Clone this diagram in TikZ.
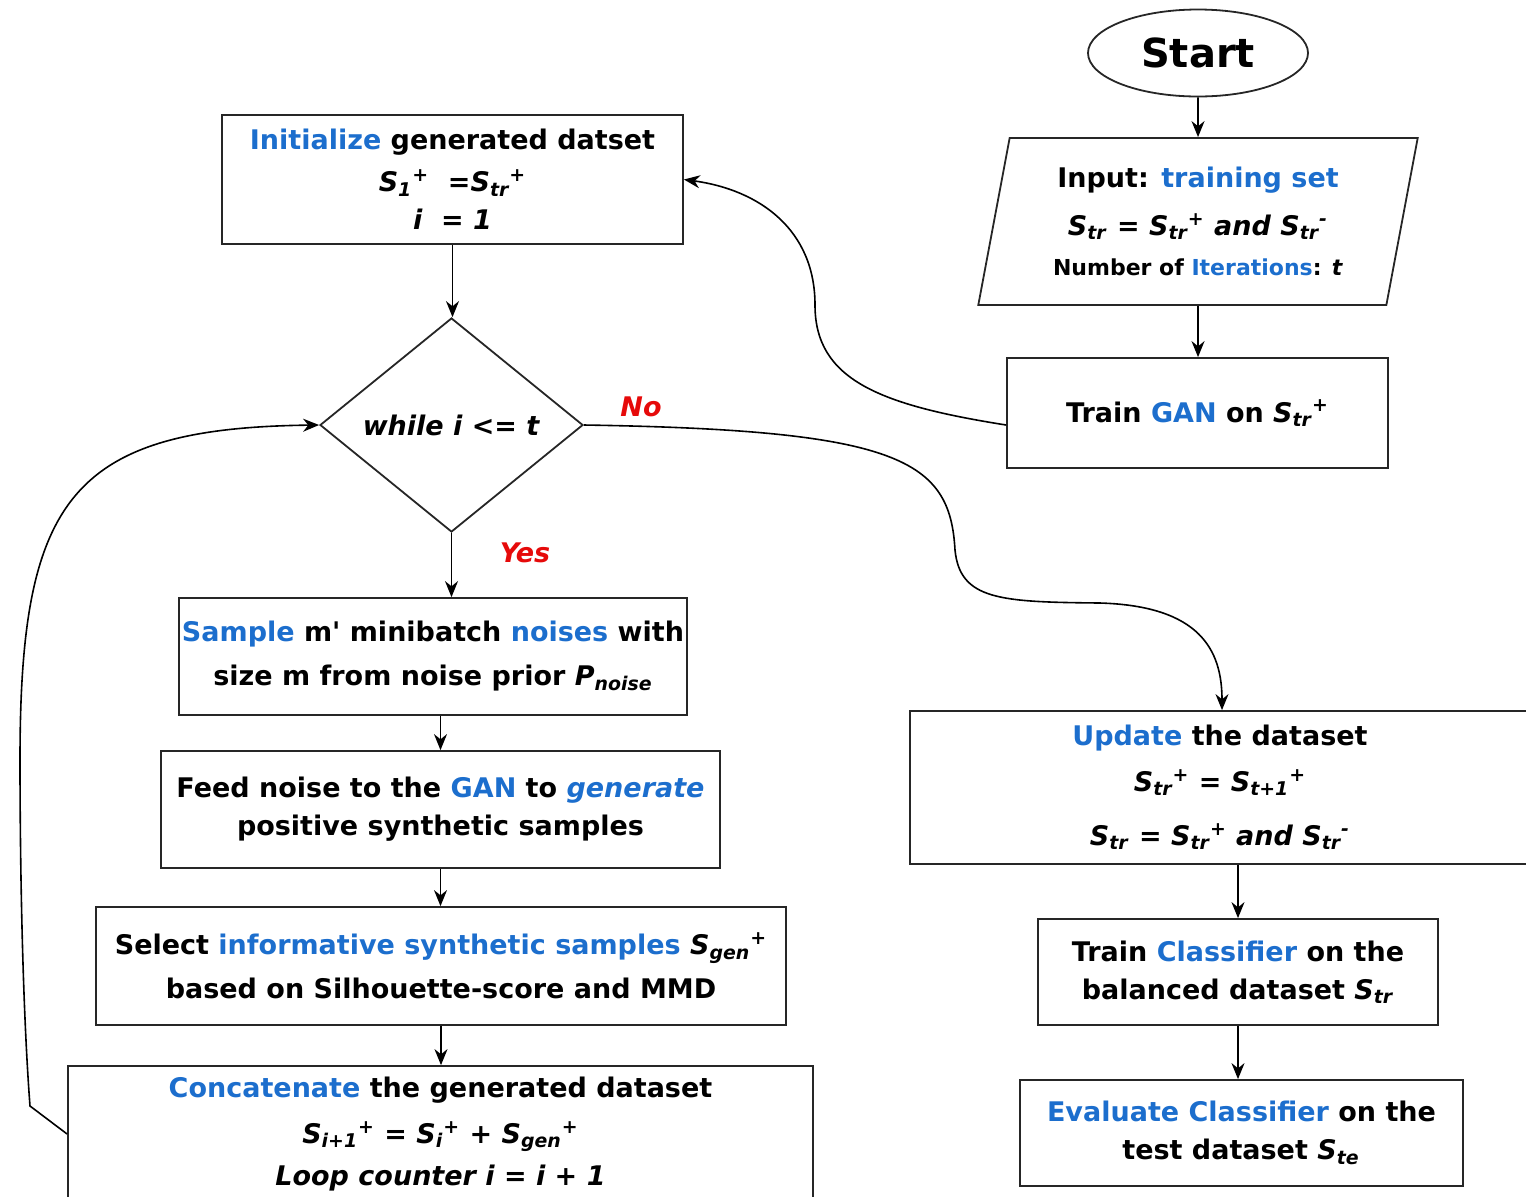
\documentclass[tikz,border=0pt]{standalone}
\usepackage{fontspec}
\setmainfont{DejaVu Sans}
\usetikzlibrary{shapes.geometric,arrows.meta,calc}
\definecolor{hl}{RGB}{28,110,205}
\definecolor{nored}{RGB}{230,10,10}
\newcommand{\hb}[1]{\textcolor{hl}{#1}}
\newcommand{\Ss}[2]{\textit{S\textsubscript{#1}\textsuperscript{#2}}}
\begin{document}
\begin{tikzpicture}[x=0.5pt,y=-0.5pt,
  every node/.style={font=\fontsize{13.5}{22}\selectfont\bfseries},
  box/.style={draw=black!85, line width=0.9pt, rectangle, align=center, inner sep=0pt},
  arr/.style={-{Stealth[length=8pt,width=6.5pt]}, line width=0.8pt},
  lbl/.style={text=nored, font=\fontsize{13.5}{16}\selectfont\bfseries\itshape}]
\useasboundingbox (0,0) rectangle (1526,1196);

\node[draw=black!85, line width=0.9pt, ellipse, minimum width=110pt, minimum height=43.5pt, inner sep=0pt] (start) at (1198,53) {\fontsize{20}{24}\selectfont Start};

\node[draw=black!85, line width=0.9pt, trapezium, trapezium left angle=77.5, trapezium right angle=102.5, trapezium stretches=true, minimum width=220pt, minimum height=83.5pt, align=center, inner sep=0pt] (input) at (1198,221.5)
  {Input: \hb{training set}\\[2pt]
   \textit{\Ss{tr}{} = \Ss{tr}{+} and \Ss{tr}{-}}\\[-2pt]
   {\fontsize{11}{14}\selectfont Number of \hb{Iterations}: \textit{t}}};

\node[box, minimum width=190.5pt, minimum height=55pt] (gan) at (1197.5,413) {Train \hb{GAN} on \Ss{tr}{+}};

\node[box, minimum width=230.5pt, minimum height=64.5pt] (init) at (452.5,179.5)
  {\hb{Initialize} generated datset\\[-1pt]
   \textit{\Ss{1}{+} \ =\Ss{tr}{+}}\\[-3pt]
   \textit{i \ = 1}};

\node[draw=black!85, line width=0.9pt, diamond, minimum width=131.5pt, minimum height=107pt, inner sep=0pt] (dia) at (451.5,425) {\textit{while i <= t}};

\node[box, minimum width=254pt, minimum height=58.5pt] (sample) at (433,656.5)
  {\hb{Sample} m\textquotesingle{} minibatch \hb{noises} with\\
   size m from noise prior \textit{P\textsubscript{noise}}};

\node[box, minimum width=279.5pt, minimum height=58.5pt] (feed) at (440.5,809.5)
  {Feed noise to the \hb{GAN} to \hb{\textit{generate}}\\[-3pt]
   positive synthetic samples};

\node[box, minimum width=345pt, minimum height=59pt] (select) at (441,966)
  {Select \hb{informative synthetic samples} \Ss{gen}{+}\\
   based on Silhouette-score and MMD};

\node[box, minimum width=372.5pt, minimum height=68pt] (concat) at (440.5,1134)
  {\hb{Concatenate} the generated dataset\\[1pt]
   \textit{\Ss{i+1}{+} = \Ss{i}{+} + \Ss{gen}{+}}\\[-1pt]
   \textit{Loop counter i = i + 1}};

\node[box, minimum width=310pt, minimum height=76.5pt] (upd) at (1220,787.5)
  {\hb{Update} the dataset\\[1pt]
   \textit{\Ss{tr}{+} = \Ss{t+1}{+}}\\[5pt]
   \textit{\Ss{tr}{} = \Ss{tr}{+} and \Ss{tr}{-}}};

\node[box, minimum width=200pt, minimum height=53pt] (trc) at (1238,972)
  {Train \hb{Classifier} on the\\[-3pt]
   balanced dataset \Ss{tr}{}};

\node[box, minimum width=221.5pt, minimum height=53pt] (eval) at (1241.5,1133)
  {\hb{Evaluate Classifier} on the\\[-3pt]
   test dataset \Ss{te}{}};

\node[lbl] (no) at (641,407) {No};
\node[lbl] (yes) at (525,553) {Yes};

\draw[arr] (start) -- (input);
\draw[arr] (input.south) -- (input.south |- gan.north);
\draw[arr] (init.south) -- (init.south |- dia.north);
\draw[arr] (dia.south) -- (dia.south |- sample.north);
\draw[arr] (feed.north |- sample.south) -- (feed.north);
\draw[arr] (feed.south) -- (feed.south |- select.north);
\draw[arr] (select.south) -- (select.south |- concat.north);
\draw[arr] (trc.north |- upd.south) -- (trc.north);
\draw[arr] (trc.south) -- (trc.south |- eval.north);

\draw[arr] ([yshift=-6pt]gan.west) .. controls (880,405) and (815,380) .. (815,305)
   .. controls (815,230) and (760,190) .. (init.east);
\draw[arr] (dia.east) .. controls (900,430) and (950,460) .. (955,550)
   .. controls (960,600) and (1000,602) .. (1100,603)
   .. controls (1200,606) and (1222,650) .. ([xshift=1pt]upd.north);
\draw[arr] (concat.west) -- (30,1106) .. controls (22,1000) and (20,850) .. (20,760)
   .. controls (20,500) and (70,428) .. (dia.west);
\end{tikzpicture}
\end{document}
